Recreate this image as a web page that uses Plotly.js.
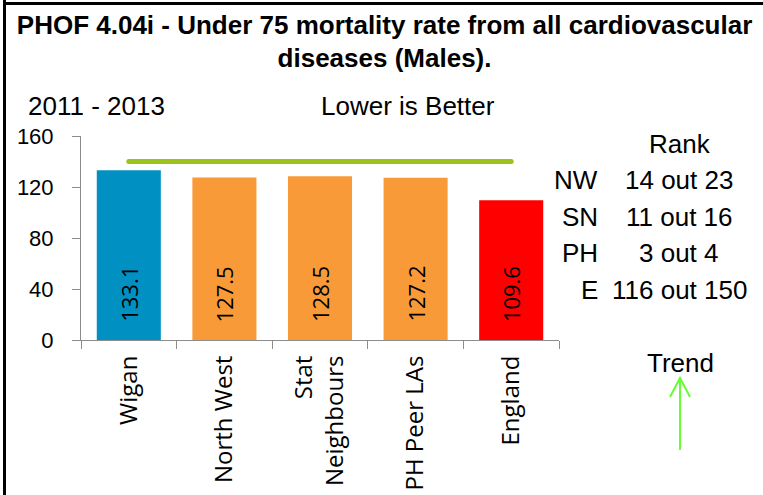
<!DOCTYPE html>
<html>
<head>
<meta charset="utf-8">
<script src="https://cdn.plot.ly/plotly-3.0.1.min.js"></script>
<style>
  html, body { margin: 0; padding: 0; background: #ffffff; }
  #chart { width: 763px; height: 495px; }
</style>
</head>
<body>
<div id="chart"></div>
<script>
// ---- Data ----
const categories = ['Wigan', 'North West', 'Stat<br>Neighbours', 'PH Peer LAs', 'England'];
const values = [133.1, 127.5, 128.5, 127.2, 109.6];
const barColors = ['#0090c2', '#f99a38', '#f99a38', '#f99a38', '#ff0000'];
const targetValue = 140;
const yTicks = [0, 40, 80, 120, 160];
const titleLines = ['PHOF 4.04i - Under 75 mortality rate from all cardiovascular', 'diseases (Males).'];
const periodLabel = '2011 - 2013';
const polarityLabel = 'Lower is Better';
const rankHeader = 'Rank';
const rankGroups = ['NW', 'SN', 'PH', 'E'];
const rankTexts = ['14 out 23', '11 out 16', '3 out 4', '116 out 150'];
const trendLabel = 'Trend';

// ---- Layout geometry helpers ----
const W = 763, H = 495;
const M = { l: 81, r: 204, t: 136, b: 155 };
const PW = W - M.l - M.r, PH = H - M.t - M.b;
const px = x => (x - M.l) / PW;
const py = y => (H - M.b - y) / PH;

const arial = 'Liberation Sans, Arial, sans-serif';
const calibriLike = 'Open Sans, Noto Sans, sans-serif';
const txtSize = 26;

const barTrace = {
  type: 'bar',
  x: categories,
  y: values,
  marker: { color: barColors, line: { width: 0 } },
  hoverinfo: 'x+y',
  showlegend: false
};

const targetTrace = {
  type: 'scatter',
  mode: 'lines+markers',
  x: [categories[0], categories[categories.length - 1]],
  y: [targetValue, targetValue],
  line: { color: '#9cc31b', width: 5 },
  marker: { color: '#9cc31b', size: 5 },
  cliponaxis: false,
  hoverinfo: 'skip',
  showlegend: false
};

const annotations = [];
// value labels inside bars
values.forEach((v, i) => {
  annotations.push({
    xref: 'x', yref: 'y', x: categories[i], y: 0,
    text: v.toFixed(1), textangle: -90, showarrow: false,
    yanchor: 'bottom', xanchor: 'center', yshift: 16,
    font: { family: calibriLike, size: 22, color: '#000000' }
  });
});
// header labels
annotations.push({ xref: 'paper', yref: 'paper', x: px(96), y: py(106), text: periodLabel,
  showarrow: false, xanchor: 'center', yanchor: 'middle', font: { family: arial, size: txtSize, color: '#000' } });
annotations.push({ xref: 'paper', yref: 'paper', x: px(408), y: py(106), text: polarityLabel,
  showarrow: false, xanchor: 'center', yanchor: 'middle', font: { family: arial, size: txtSize, color: '#000' } });
// rank block
annotations.push({ xref: 'paper', yref: 'paper', x: px(680), y: py(144), text: rankHeader,
  showarrow: false, xanchor: 'center', yanchor: 'middle', font: { family: arial, size: txtSize, color: '#000' } });
rankGroups.forEach((g, i) => {
  const yy = 180 + i * 36.5;
  annotations.push({ xref: 'paper', yref: 'paper', x: px(600), y: py(yy), text: g,
    showarrow: false, xanchor: 'right', yanchor: 'middle', font: { family: arial, size: txtSize, color: '#000' } });
  annotations.push({ xref: 'paper', yref: 'paper', x: px(679), y: py(yy), text: rankTexts[i],
    showarrow: false, xanchor: 'center', yanchor: 'middle', font: { family: arial, size: txtSize, color: '#000' } });
});
annotations.push({ xref: 'paper', yref: 'paper', x: px(680), y: py(363), text: trendLabel,
  showarrow: false, xanchor: 'center', yanchor: 'middle', font: { family: arial, size: txtSize, color: '#000' } });

const green = '#66ff33';
const shapes = [
  // frame (left and top border)
  { type: 'line', xref: 'paper', yref: 'paper', x0: px(4.5), x1: px(4.5), y0: py(0), y1: py(H), line: { color: '#000', width: 3 } },
  { type: 'line', xref: 'paper', yref: 'paper', x0: px(3), x1: px(W), y0: py(3.5), y1: py(3.5), line: { color: '#000', width: 3 } },
  // trend arrow
  { type: 'line', xref: 'paper', yref: 'paper', x0: px(680), x1: px(680), y0: py(450), y1: py(379), line: { color: green, width: 2 } },
  { type: 'path', xref: 'paper', yref: 'paper',
    path: `M ${px(670)},${py(397)} L ${px(680)},${py(378)} L ${px(690)},${py(397)}`,
    line: { color: green, width: 2 } }
];

const layout = {
  width: W, height: H,
  margin: M,
  paper_bgcolor: '#ffffff', plot_bgcolor: '#ffffff',
  showlegend: false,
  bargap: 0.33,
  title: {
    text: titleLines.join('<br>'),
    font: { family: arial, size: 26, color: '#000', weight: 'bold' },
    xref: 'container', yref: 'container', x: 0.504, xanchor: 'center', y: 0.932, yanchor: 'top'
  },
  xaxis: {
    type: 'category',
    showgrid: false, zeroline: false,
    showline: true, linecolor: '#8c8c8c', linewidth: 1,
    ticks: 'outside', tickson: 'boundaries', ticklen: 8, tickcolor: '#8c8c8c',
    tickangle: -90,
    ticklabelstandoff: 5,
    tickfont: { family: calibriLike, size: 24, color: '#000' },
    fixedrange: true
  },
  yaxis: {
    range: [0, 160],
    tickvals: yTicks,
    ticktext: yTicks.map(String),
    showgrid: false, zeroline: false,
    showline: true, linecolor: '#8c8c8c', linewidth: 1,
    ticks: 'outside', ticklen: 8, tickcolor: '#8c8c8c',
    ticklabelstandoff: 14,
    tickfont: { family: arial, size: 22, color: '#000' },
    fixedrange: true
  },
  annotations: annotations,
  shapes: shapes
};

Plotly.newPlot('chart', [barTrace, targetTrace], layout, { displayModeBar: false, staticPlot: true });
</script>
</body>
</html>
